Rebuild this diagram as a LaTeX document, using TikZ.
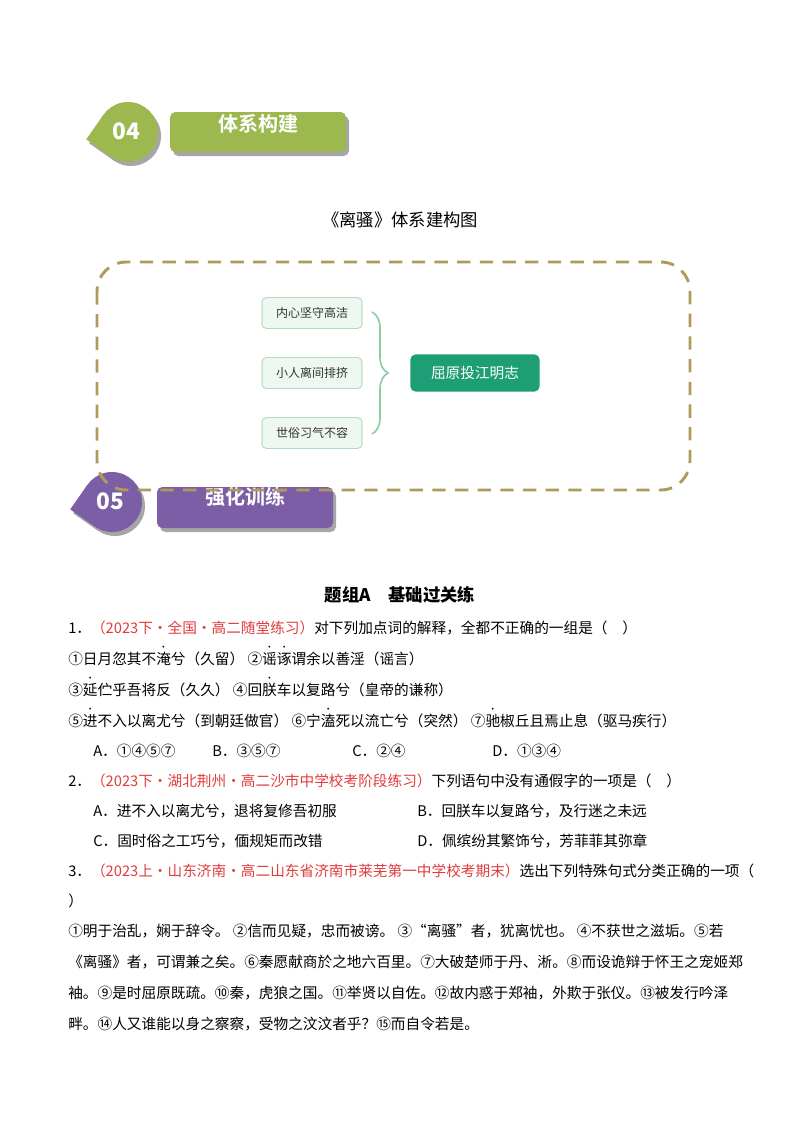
\documentclass[tikz,border=0pt]{standalone}
\usepackage{fontspec}
\setmainfont{Noto Sans CJK SC}
\newfontfamily\hei{Noto Sans CJK SC}[BoldFont={* Bold}]
\usepackage{graphicx}
\usetikzlibrary{decorations.pathreplacing}
\definecolor{gA}{HTML}{9CB84F}
\definecolor{pA}{HTML}{7B5EA6}
\definecolor{olv}{HTML}{B09A5A}
\definecolor{tg}{HTML}{1E9E75}
\definecolor{lg}{HTML}{EEF7F0}
\definecolor{lgb}{HTML}{8FC9A3}
\definecolor{rd}{HTML}{E03C3C}
\newcommand\zd[1]{\leavevmode\hbox{\ooalign{#1\cr\hidewidth\raisebox{0.95em}{\scalebox{0.6}{\textbullet}}\hidewidth\cr}}}
\newcommand\leaf[3]{% center x, y, colour
 \fill[black!35] (#1+3,#2+4) circle (30);
 \fill[black!35,rotate around={55:(#1+3,#2+4)}] (#1+3,#2+4) rectangle ++(-30,-30);
 \fill[#3] (#1,#2) circle (30);
 \fill[#3,rotate around={55:(#1,#2)}] (#1,#2) rectangle ++(-30,-30);
}
\tikzset{
 body/.style={anchor=west,inner sep=0,font=\fontsize{11}{13}\selectfont},
 sbox/.style={draw=lgb,fill=lg,rounded corners=3,minimum width=75pt,minimum height=23pt,font=\fontsize{9}{11}\selectfont,text=black!80},
 hdtxt/.style={text=white,font=\hei\bfseries\fontsize{15}{17}\selectfont},
}
\begin{document}
\begin{tikzpicture}[x=0.75pt,y=-0.75pt]
\useasboundingbox (0,0) rectangle (800,1132);
% header 04
\leaf{128}{132}{gA}
\node[text=white,font=\bfseries\fontsize{17}{19}\selectfont] (n04) at (126,131) {04};
\fill[black!35,rounded corners=4] (173,116) rectangle (349,156);
\fill[gA,rounded corners=4] (170,112) rectangle (346,152);
\node[hdtxt] (h04) at (258,124) {体系构建};
% title
\node[font=\fontsize{13}{15}\selectfont] (ttl) at (400,220) {《离骚》体系建构图};
% boxes
\node[sbox] (b1) at (312,313) {内心坚守高洁};
\node[sbox] (b2) at (312,373) {小人离间排挤};
\node[sbox] (b3) at (312,433) {世俗习气不容};
\draw[lgb,line width=1.2pt,decorate,decoration={brace,amplitude=12pt}] (372,312) -- (372,434);
\node[fill=tg,rounded corners=4,minimum width=97pt,minimum height=28pt,text=white,font=\fontsize{11}{13}\selectfont] (res) at (475,373) {屈原投江明志};
% header 05
\leaf{112}{502}{pA}
\node[text=white,font=\bfseries\fontsize{17}{19}\selectfont] (n05) at (110,501) {05};
\fill[black!35,rounded corners=4] (160,491) rectangle (336,532);
\fill[pA,rounded corners=4] (157,487) rectangle (333,528);
\node[hdtxt] (h05) at (245,497) {强化训练};
% dashed frame
\draw[olv,line width=2.2pt,dash pattern=on 10pt off 7pt,rounded corners=22] (97,262) rectangle (690,490);
% questions
\node[font=\bfseries\fontsize{13}{15}\selectfont] (grp) at (400,595) {题组A\quad 基础过关练};
\node[body] (q1) at (68,628) {1．\textcolor{rd}{（2023下·全国·高二随堂练习）}对下列加点词的解释，全都不正确的一组是（\quad ）};
\node[body] (l2) at (68,659) {①日月忽其不\zd{淹}兮（久留）\ ②\zd{谣}\zd{诼}谓余以善淫（谣言）};
\node[body] (l3) at (68,690) {③\zd{延}伫乎吾将反（久久）\ ④回\zd{朕}车以复路兮（皇帝的谦称）};
\node[body] (l4) at (68,721) {⑤\zd{进}不入以离尤兮（到朝廷做官）\ ⑥宁\zd{溘}死以流亡兮（突然）\ ⑦\zd{驰}椒丘且焉止息（驱马疾行）};
\node[body] (o1) at (93,751) {A．①④⑤⑦};
\node[body] (o2) at (212,751) {B．③⑤⑦};
\node[body] (o3) at (352,751) {C．②④};
\node[body] (o4) at (492,751) {D．①③④};
\node[body] (q2) at (68,781) {2．\textcolor{rd}{（2023下·湖北荆州·高二沙市中学校考阶段练习）}下列语句中没有通假字的一项是（\quad ）};
\node[body] (a1) at (93,811) {A．进不入以离尤兮，退将复修吾初服};
\node[body] (a2) at (417,811) {B．回朕车以复路兮，及行迷之未远};
\node[body] (a3) at (93,841) {C．固时俗之工巧兮，偭规矩而改错};
\node[body] (a4) at (417,841) {D．佩缤纷其繁饰兮，芳菲菲其弥章};
\node[body] (q3) at (68,871) {3．\textcolor{rd}{（2023上·山东济南·高二山东省济南市莱芜第一中学校考期末）}选出下列特殊句式分类正确的一项（};
\node[body] (q3b) at (68,901) {）};
\node[body] (s1) at (68,931) {①明于治乱，娴于辞令。\ ②信而见疑，忠而被谤。\ ③“离骚”者，犹离忧也。\ ④不获世之滋垢。⑤若};
\node[body] (s2) at (68,962) {《离骚》者，可谓兼之矣。⑥秦愿献商於之地六百里。⑦大破楚师于丹、淅。⑧而设诡辩于怀王之宠姬郑};
\node[body] (s3) at (68,993) {袖。⑨是时屈原既疏。⑩秦，虎狼之国。⑪举贤以自佐。⑫故内惑于郑袖，外欺于张仪。⑬被发行吟泽};
\node[body] (s4) at (68,1024) {畔。⑭人又谁能以身之察察，受物之汶汶者乎？⑮而自令若是。};
\end{tikzpicture}
\end{document}
